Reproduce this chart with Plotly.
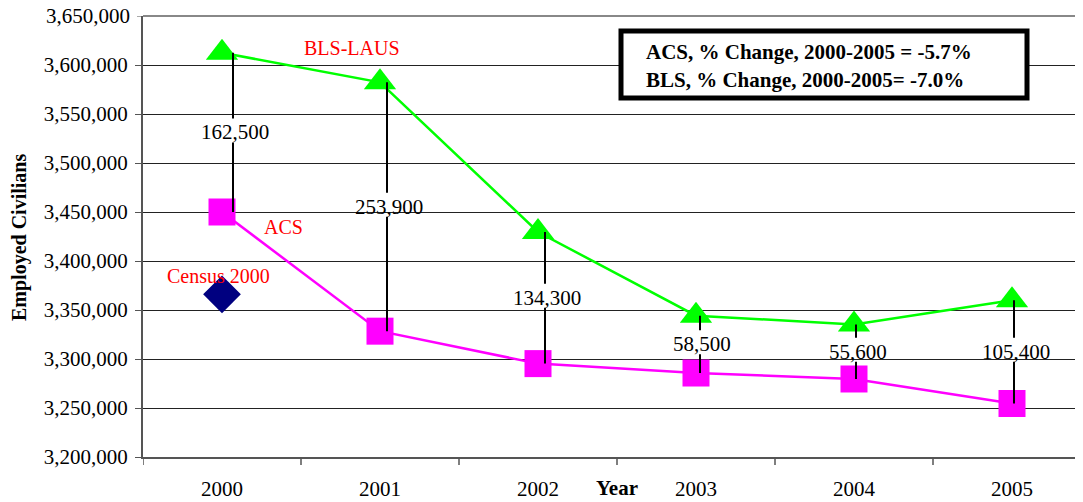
import plotly.graph_objects as go

years = ["2000", "2001", "2002", "2003", "2004", "2005"]
bls_laus = [3612500, 3582300, 3429600, 3344200, 3335200, 3360000]
acs = [3450000, 3328400, 3295300, 3285700, 3279600, 3254600]
census_year = ["2000"]
census_2000 = [3366000]
diff_labels = ["162,500", "253,900", "134,300", "58,500", "55,600", "105,400"]
y_ticks = list(range(3200000, 3650001, 50000))

FONT = "Liberation Serif, Times New Roman, serif"
xpos = {y: i for i, y in enumerate(years)}

# page offset of 8px (body margin) is compensated in the figure size/margins
W, H = 1075, 494
ML, MT, MB = 135, 8, 45
PW, PH = W - ML, H - MT - MB  # 940 x 441

def px(xp):  # page x -> paper x
    return (xp - 8 - ML) / PW

def py(yp):  # page y -> paper y
    return (H - MB - (yp - 8)) / PH

fig = go.Figure()
fig.add_trace(go.Scatter(x=[xpos[y] for y in years], y=bls_laus, mode="lines+markers",
                         line=dict(color="#00FF00", width=2.5),
                         marker=dict(symbol="triangle-up", size=28, color="#00FF00"),
                         name="BLS-LAUS", showlegend=False, cliponaxis=False))
fig.add_trace(go.Scatter(x=[xpos[y] for y in years], y=acs, mode="lines+markers",
                         line=dict(color="#FF00FF", width=2.5),
                         marker=dict(symbol="square", size=27, color="#FF00FF"),
                         name="ACS", showlegend=False, cliponaxis=False))
fig.add_trace(go.Scatter(x=[xpos[y] for y in census_year], y=census_2000, mode="markers",
                         marker=dict(symbol="diamond", size=29, color="#000080"),
                         name="Census 2000", showlegend=False, cliponaxis=False))

shapes = []
annotations = []
px_per_unit = PH / 450000.0
gap_top = 14 / px_per_unit
gap_bot = 10 / px_per_unit
xoff = [11, 7, 7, 4, 2, 2]
for i, (b, a, lab) in enumerate(zip(bls_laus, acs, diff_labels)):
    mid = (a + b) / 2.0
    for y0, y1 in [(b, mid + gap_top), (mid - gap_bot, a)]:
        shapes.append(dict(type="line", xref="x", yref="y", xsizemode="pixel",
                           xanchor=i, x0=xoff[i], x1=xoff[i], y0=y0, y1=y1,
                           line=dict(color="black", width=2)))
    annotations.append(dict(x=i, y=mid, xref="x", yref="y", text=lab, showarrow=False,
                            xshift=xoff[i] + 2, font=dict(family=FONT, size=21, color="black")))

# top frame line
shapes.append(dict(type="line", xref="paper", yref="paper", x0=0, x1=1, y0=1, y1=1,
                   line=dict(color="#888888", width=2)))
# text box
shapes.append(dict(type="rect", xref="paper", yref="paper",
                   x0=px(621), x1=px(1027), y0=py(98), y1=py(31),
                   line=dict(color="black", width=5), fillcolor="white"))

# top y tick label drawn as annotation (it would otherwise be dropped at the figure edge)
top_tick = y_ticks[-1]
annotations.append(dict(xref="paper", yref="y", x=0, y=top_tick, xanchor="right",
                        yanchor="middle", xshift=-11, showarrow=False, text=f"{top_tick:,}",
                        font=dict(family=FONT, size=21, color="black")))

annotations += [
    dict(xref="paper", yref="paper", x=px(644), y=py(52),
         xanchor="left", yanchor="middle", showarrow=False,
         text="<b>ACS, % Change, 2000-2005 = -5.7%</b>",
         font=dict(family=FONT, size=21, color="black")),
    dict(xref="paper", yref="paper", x=px(644), y=py(80),
         xanchor="left", yanchor="middle", showarrow=False,
         text="<b>BLS, % Change, 2000-2005= -7.0%</b>",
         font=dict(family=FONT, size=21, color="black")),
    dict(x=0, y=bls_laus[0], xref="x", yref="y", text="BLS-LAUS", showarrow=False,
         xshift=130, yshift=5, font=dict(family=FONT, size=20, color="red")),
    dict(x=0, y=acs[0], xref="x", yref="y", text="ACS", showarrow=False,
         xshift=61, yshift=-15, font=dict(family=FONT, size=20, color="red")),
    dict(x=0, y=census_2000[0], xref="x", yref="y", text="Census 2000", showarrow=False,
         xshift=-4, yshift=18, font=dict(family=FONT, size=20, color="red")),
    dict(xref="paper", yref="paper", x=px(617), y=py(488),
         xanchor="center", yanchor="middle", showarrow=False, text="<b>Year</b>",
         font=dict(family=FONT, size=21, color="black")),
    dict(xref="paper", yref="paper", x=px(19), y=py(238), textangle=-90,
         xanchor="center", yanchor="middle", showarrow=False, text="<b>Employed Civilians</b>",
         font=dict(family=FONT, size=20, color="black")),
]

fig.update_layout(
    width=W, height=H,
    margin=dict(l=ML, r=0, t=MT, b=MB),
    paper_bgcolor="white", plot_bgcolor="white",
    annotations=annotations,
    font=dict(family=FONT, size=21, color="black"),
    xaxis=dict(range=[-0.5, -0.5 + PW / 158.0], tickmode="array",
               tickvals=list(range(len(years))),
               ticktext=years, showgrid=False, zeroline=False, showline=True,
               linecolor="#555555", linewidth=2, ticks="", ticklabelstandoff=12,
               tickfont=dict(family=FONT, size=21), fixedrange=True),
    yaxis=dict(range=[3200000, 3650000], tickmode="array", tickvals=y_ticks[:-1],
               ticktext=[f"{v:,}" for v in y_ticks[:-1]], showgrid=True, gridcolor="#222222",
               gridwidth=1, zeroline=False, showline=True, linecolor="#555555", linewidth=2,
               ticks="outside", ticklen=6, tickcolor="#555555", ticklabelstandoff=3,
               tickfont=dict(family=FONT, size=21)),
)

# x-axis tick marks between categories, and the top y tick mark
for k in range(len(years) + 1):
    shapes.append(dict(type="line", xref="x", yref="paper", x0=k - 0.5, x1=k - 0.5,
                       y0=0, y1=-8 / PH, line=dict(color="#555555", width=1.5)))
shapes.append(dict(type="line", xref="paper", yref="y", x0=0, x1=-6 / PW,
                   y0=top_tick, y1=top_tick, line=dict(color="#555555", width=1)))
fig.update_layout(shapes=shapes)

fig.write_html("out.html")
